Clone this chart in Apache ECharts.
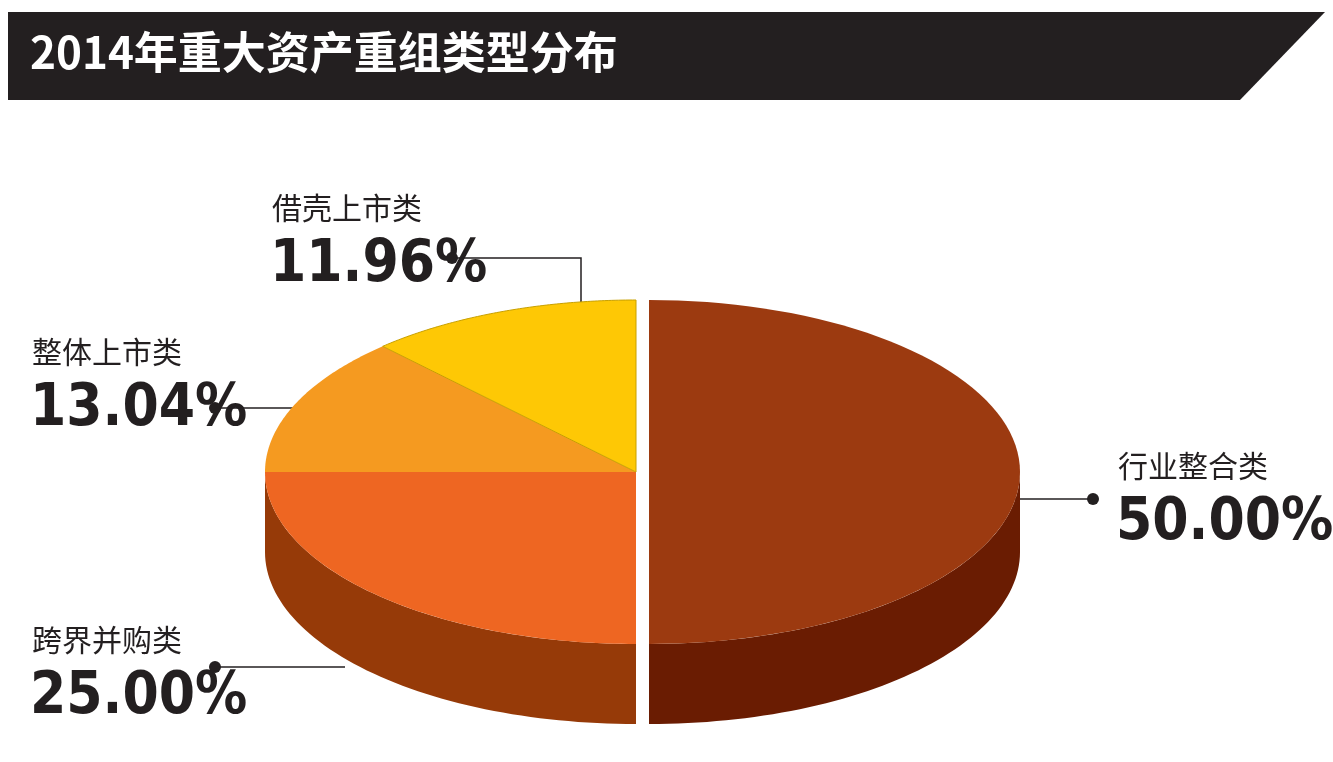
<!DOCTYPE html>
<html lang="zh">
<head>
<meta charset="UTF-8" />
<title>2014年重大资产重组类型分布</title>
<style>html,body{margin:0;padding:0;background:#fff}#main{width:1333px;height:762px}</style>
</head>
<body>
<div id="main"></div>
<script src="https://cdn.jsdelivr.net/npm/echarts@6/dist/echarts.min.js"></script>
<script>
var myChart = echarts.init(document.getElementById("main"), null, { renderer: "canvas" });

// 数据
var names = ["行业整合类", "跨界并购类", "整体上市类", "借壳上市类"];
var values = [50.0, 25.0, 13.04, 11.96];
var topColors = ["#9c3a10", "#ee6622", "#f59a20", "#fec805"];
var sideColors = ["#6a1c02", "#963a08", "#b86a10", "#b89000"];

// 椭圆几何
var cx = 636, cy = 472, rx = 371, ry = 172, depth = 80;
var total = values.reduce(function (a, b) { return a + b; }, 0);

function pt(th, dx, dy) {
  return [cx + dx + rx * Math.sin(th), cy + dy - ry * Math.cos(th)];
}

function renderItem(params, api) {
  var i = params.dataIndex;
  var before = 0;
  for (var k = 0; k < i; k++) before += values[k];
  var a0 = before / total * Math.PI * 2;
  var a1 = (before + values[i]) / total * Math.PI * 2;
  var dx = i === 0 ? 13 : 0, dy = 0;
  var children = [];
  // 侧面：仅可见部分 (PI/2 .. 3PI/2)
  var s0 = Math.max(a0, Math.PI / 2), s1 = Math.min(a1, Math.PI * 1.5);
  if (s1 > s0) {
    var top = [], bot = [];
    for (var n = 0; n <= 60; n++) {
      var t = s0 + (s1 - s0) * n / 60;
      top.push(pt(t, dx, dy));
      bot.unshift(pt(t, dx, dy + depth));
    }
    children.push({ type: "polygon", shape: { points: top.concat(bot) }, style: { fill: sideColors[i] } });
  }
  // 切面（爆炸块左侧）
  if (i === 0) {
    children.push({ type: "polygon", shape: { points: [[cx + dx, cy], pt(Math.PI, dx, 0), pt(Math.PI, dx, depth), [cx + dx, cy + depth]] }, style: { fill: "#7a2a06" } });
  }
  if (i === 3) {
    children.push({ type: "polygon", shape: { points: [[cx, cy], [cx, cy + depth * 0.5], pt(0, 0, depth * 0.5), pt(0, 0, 0)] }, style: { fill: "#a08a10" } });
  }
  // 顶面
  var pts = [[cx + dx, cy + dy]];
  for (var m = 0; m <= 80; m++) pts.push(pt(a0 + (a1 - a0) * m / 80, dx, dy));
  children.push({ type: "polygon", shape: { points: pts }, style: { fill: topColors[i], stroke: i === 3 ? "#c8a000" : null, lineWidth: 1 } });
  return { type: "group", children: children };
}

// 标签
var labelPos = [[1118, 466, "left"], [32, 640, "left"], [32, 352, "left"], [272, 208, "left"]];
var leaders = [
  [[1093, 499], [1007, 499]],
  [[215, 667], [345, 667]],
  [[215, 408], [297, 408]],
  [[452, 258], [581, 258], [581, 305]]
];
var graphics = [
  { type: "polygon", shape: { points: [[8, 12], [1325, 12], [1240, 100], [8, 100]] }, style: { fill: "#231f20" } },
  { type: "text", left: 30, top: 30, style: { text: "2014年重大资产重组类型分布", fill: "#fff", font: "bold 44px 'Noto Sans CJK SC'" } }
];
names.forEach(function (nm, i) {
  var p = labelPos[i];
  graphics.push({ type: "text", x: p[0], y: p[1], style: { text: nm, fill: "#231f20", font: "30px 'Noto Sans CJK SC'", verticalAlign: "middle" } });
  graphics.push({ type: "text", x: p[0] - 2, y: p[1] + 58, style: { text: values[i].toFixed(2) + "%", fill: "#231f20", font: "bold 58px 'Liberation Sans Narrow','DejaVu Sans Condensed'", verticalAlign: "middle" } });
  var l = leaders[i];
  graphics.push({ type: "polyline", shape: { points: l }, style: { stroke: "#231f20", lineWidth: 1.5, fill: null } });
  graphics.push({ type: "circle", shape: { cx: l[0][0], cy: l[0][1], r: 6 }, style: { fill: "#231f20" } });
});

var option = {
  backgroundColor: "#fff",
  xAxis: { show: false, min: 0, max: 1 },
  yAxis: { show: false, min: 0, max: 1 },
  graphic: graphics,
  series: [{
    type: "custom",
    renderItem: renderItem,
    data: values.map(function (v, i) { return { name: names[i], value: [0, 0, v] }; }),
    silent: true,
    z: 1
  }]
};
myChart.setOption(option);
</script>
</body>
</html>
